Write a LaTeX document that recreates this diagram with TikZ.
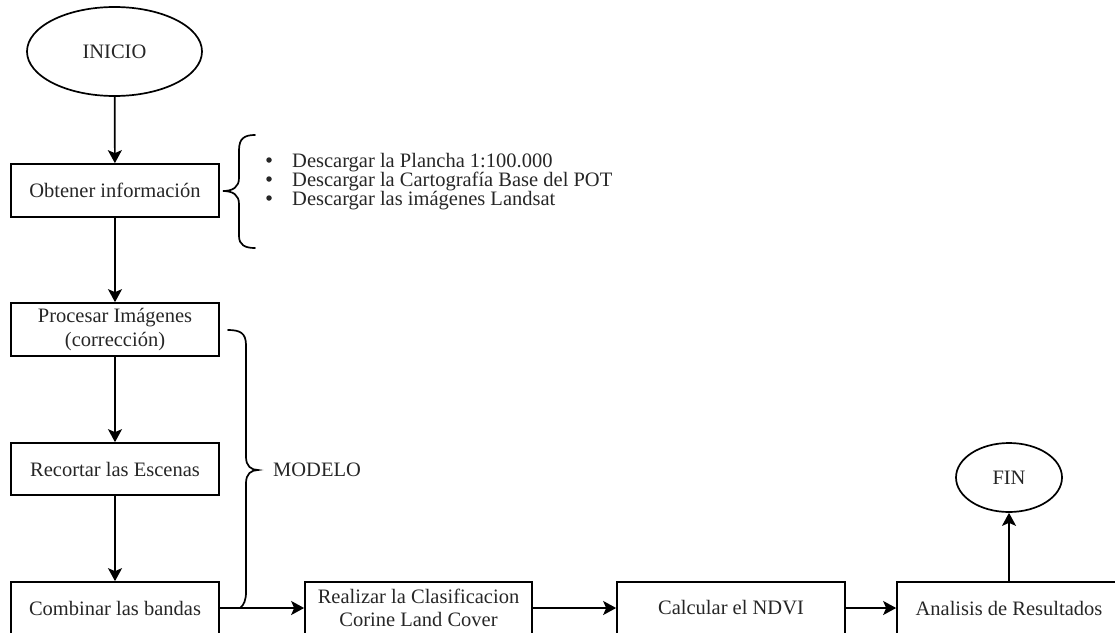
\documentclass[tikz,border=0pt]{standalone}
\usepackage{fontspec}
\setmainfont{Liberation Serif}
\usetikzlibrary{shapes.geometric,arrows.meta}
\begin{document}
\begin{tikzpicture}[x=1pt,y=-1pt,
  every node/.style={font=\fontsize{20.5}{23.5}\selectfont, text=black!85},
  box/.style={draw=black, line width=1.7pt, rectangle, minimum width=208pt, minimum height=53pt, inner sep=0pt, align=center},
  wbox/.style={box, minimum width=227pt, minimum height=52pt},
  term/.style={draw=black, ellipse, line width=1.7pt, inner sep=0pt},
  arr/.style={-{Stealth[length=13pt,width=14pt,inset=3pt]}, line width=1.7pt},
  bracepath/.style={line width=1.7pt, line cap=round},
  bul/.style={circle, fill=black!85, inner sep=0pt, minimum size=5.5pt},
  plain/.style={inner sep=0pt, anchor=base west}
  ]
\useasboundingbox (0,0) rectangle (1115,632);

% nodes
\node[term, minimum width=175pt, minimum height=89pt] (inicio) at (114.5,51.5) {INICIO};
\node[box] (obtener) at (115,190.5) {Obtener información};
\node[box] (procesar) at (115,329.5) {Procesar Imágenes\\(corrección)};
\node[box, minimum height=52pt] (recortar) at (115,469) {Recortar las Escenas};
\node[box, minimum height=52pt] (combinar) at (115,608) {Combinar las bandas};
\node[wbox] (realizar) at (418.5,608) {Realizar la Clasificacion\\Corine Land Cover};
\node[wbox, minimum width=228pt] (calcular) at (731,608) {Calcular el NDVI};
\node[wbox, minimum width=224pt] (analisis) at (1009,608) {Analisis de Resultados};
\node[term, minimum width=106pt, minimum height=69pt] (fin) at (1009,477.5) {FIN};

% bullet list
\node[bul] (b1) at (269,160) {};
\node[bul] (b2) at (269,179) {};
\node[bul] (b3) at (269,198) {};
\node[plain] (t1) at (292,167) {Descargar la Plancha 1:100.000};
\node[plain] (t2) at (292,186) {Descargar la Cartografía Base del POT};
\node[plain] (t3) at (292,205) {Descargar las imágenes Landsat};

\node[inner sep=0pt, anchor=west] (modelo) at (273,470) {MODELO};

% connectors
\draw[arr] (inicio) -- (obtener);
\draw[arr] (obtener) -- (procesar);
\draw[arr] (procesar) -- (recortar);
\draw[arr] (recortar) -- (combinar);
\draw[arr] (combinar) -- (realizar);
\draw[arr] (realizar) -- (calcular);
\draw[arr] (calcular) -- (analisis);
\draw[arr] (analisis) -- (fin);

% braces
\draw[bracepath] (255,135) .. controls (245,135) and (239,138) .. (239,150) -- (239,178)
  .. controls (239,187) and (233,191) .. (223,191)
  .. controls (233,191) and (239,195) .. (239,204) -- (239,236)
  .. controls (239,245) and (245,248) .. (255,248);

\draw[bracepath] (228,330) .. controls (240,330) and (246,333) .. (246,345) -- (246,457)
  .. controls (246,466) and (251,470) .. (258,470)
  .. controls (251,470) and (246,474) .. (246,483) -- (246,592)
  .. controls (246,600) and (244,605) .. (240,608);
\end{tikzpicture}
\end{document}
